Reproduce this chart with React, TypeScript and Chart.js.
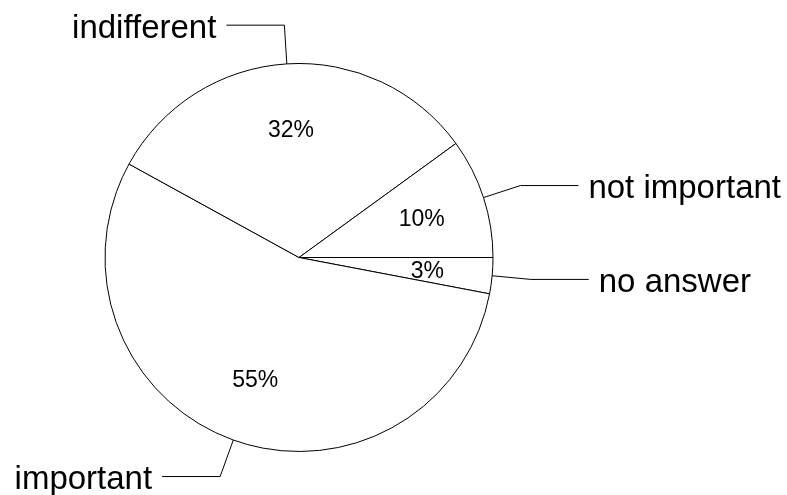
import React, { useEffect, useRef } from "react";
import { Chart, registerables } from "chart.js";

Chart.register(...registerables);

// Survey answers, listed clockwise from 3 o'clock
const categories: string[] = ["no answer", "important", "indifferent", "not important"];
const shares: number[] = [3, 55, 32, 10];

const FONT = '"Liberation Sans", Arial, Helvetica, sans-serif';

// Draws the percentage inside each slice and the category name on a bent leader line
const sliceLabels = {
  id: "sliceLabels",
  afterDraw(chart: Chart) {
    const ctx = chart.ctx;
    const meta = chart.getDatasetMeta(0);
    ctx.save();
    meta.data.forEach((el: any, i: number) => {
      const { x, y, startAngle, endAngle, outerRadius } = el.getProps(
        ["x", "y", "startAngle", "endAngle", "outerRadius"],
        true
      );
      const mid = (startAngle + endAngle) / 2;
      const cos = Math.cos(mid);
      const sin = Math.sin(mid);

      // percentage inside the slice
      const rIn = outerRadius * 0.665;
      ctx.fillStyle = "#000";
      ctx.font = `23px ${FONT}`;
      ctx.textAlign = "center";
      ctx.textBaseline = "alphabetic";
      ctx.fillText(`${shares[i]}%`, x + cos * rIn, y + sin * rIn + 8.2);

      // leader line: radial segment then horizontal segment
      const p0x = x + cos * outerRadius;
      const p0y = y + sin * outerRadius;
      const p1x = x + cos * outerRadius * 1.2;
      const p1y = y + sin * outerRadius * 1.2;
      const dir = cos >= 0 ? 1 : -1;
      const p2x = p1x + dir * 58;
      ctx.strokeStyle = "#000";
      ctx.lineWidth = 1;
      ctx.beginPath();
      ctx.moveTo(p0x, p0y);
      ctx.lineTo(p1x, p1y);
      ctx.lineTo(p2x, p1y);
      ctx.stroke();

      // category name
      ctx.font = `33px ${FONT}`;
      ctx.textAlign = dir > 0 ? "left" : "right";
      ctx.fillText(categories[i], p2x + dir * 10, p1y + 12.5);
    });
    ctx.restore();
  },
};

export default function App() {
  const canvasRef = useRef<HTMLCanvasElement | null>(null);

  useEffect(() => {
    if (!canvasRef.current) return;
    const chart = new Chart(canvasRef.current, {
      type: "pie",
      data: {
        labels: categories,
        datasets: [
          {
            data: shares,
            backgroundColor: "#ffffff",
            borderColor: "#000000",
            borderWidth: 1,
            hoverOffset: 0,
          },
        ],
      },
      options: {
        responsive: false,
        animation: false,
        rotation: 90,
        radius: 194,
        layout: { padding: { left: 10, right: 199, top: 20, bottom: 0 } },
        plugins: {
          legend: { display: false },
          tooltip: { enabled: false },
        },
        events: [],
      },
      plugins: [sliceLabels],
    });
    return () => chart.destroy();
  }, []);

  return (
    <div style={{ position: "absolute", left: 0, top: 0, width: 787, height: 495, background: "#fff" }}>
      <canvas ref={canvasRef} width={787} height={495} style={{ display: "block" }} />
    </div>
  );
}
